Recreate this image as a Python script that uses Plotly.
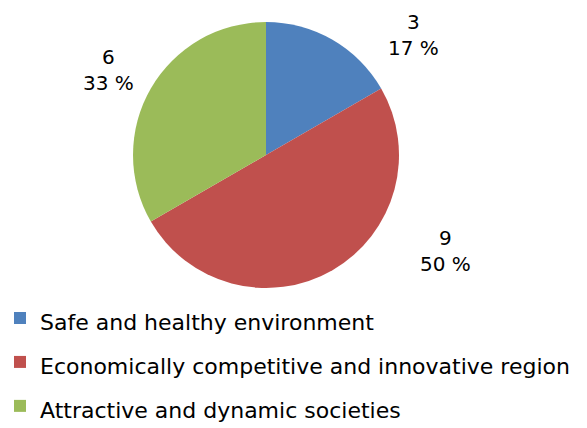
import plotly.graph_objects as go

categories = ["Safe and healthy environment",
              "Economically competitive and innovative region",
              "Attractive and dynamic societies"]
values = [3, 9, 6]
colors = ["#4F81BD", "#C0504D", "#9BBB59"]

W, H = 587, 428
OFF = 8  # page body margin offset of the rendered figure
FONT = "DejaVu Sans"

# label centres (screen px) for outside data labels
label_pos = [(413, 35), (445, 251), (108, 70)]

# pie box in screen px
pie_l, pie_r, pie_t, pie_b = 133, 399, 22, 288

total = sum(values)
fig = go.Figure(go.Pie(
    labels=[f'<span style="font-size:22px">{c}</span>' for c in categories],
    values=values,
    sort=False,
    direction="clockwise",
    rotation=0,
    marker=dict(colors=colors, line=dict(width=0)),
    textinfo="none",
    hoverinfo="label+value+percent",
    domain=dict(x=[(pie_l - OFF) / W, (pie_r - OFF) / W],
                y=[1 - (pie_b - OFF) / H, 1 - (pie_t - OFF) / H]),
))

for v, (px, py) in zip(values, label_pos):
    fig.add_annotation(
        x=(px - OFF) / W, y=1 - (py - OFF) / H, xref="paper", yref="paper",
        text=f"{v}<br>{round(100 * v / total)} %",
        showarrow=False, font=dict(family=FONT, size=20, color="#000000"),
        xanchor="center", yanchor="middle", align="center",
    )

fig.update_layout(
    width=W, height=H,
    margin=dict(l=0, r=0, t=0, b=0, autoexpand=False),
    paper_bgcolor="white", plot_bgcolor="white",
    font=dict(family=FONT, color="#000000"),
    legend=dict(
        orientation="v", x=-OFF / W, xanchor="left", y=1 - 283 / H, yanchor="top",
        font=dict(family=FONT, size=31.5, color="#000000"),
        itemclick=False,
    ),
    showlegend=True,
)

fig.write_html("out.html")
